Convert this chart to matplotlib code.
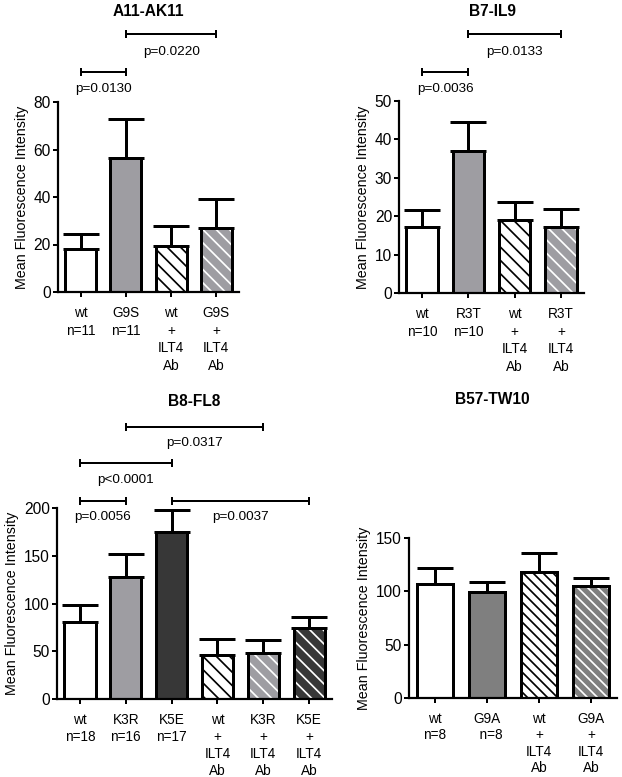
import matplotlib
matplotlib.use("Agg")
import matplotlib.pyplot as plt
from matplotlib.transforms import blended_transform_factory

W, H, DPI = 622, 777, 120


def pt(px):
    return px * 72.0 / DPI


plt.rcParams['font.family'] = ['Liberation Sans', 'DejaVu Sans']
plt.rcParams['hatch.linewidth'] = pt(1.7)

# ---------------- data ----------------
A_title = "A11-AK11"
A_labels = ["wt\nn=11", "G9S\nn=11", "wt\n+\nILT4\nAb", "G9S\n+\nILT4\nAb"]
A_means = [18.0, 56.5, 19.3, 27.0]
A_sem = [6.4, 16.3, 8.7, 12.0]
A_brackets = [(0, 1, "p=0.0130"), (1, 3, "p=0.0220")]

B_title = "B7-IL9"
B_labels = ["wt\nn=10", "R3T\nn=10", "wt\n+\nILT4\nAb", "R3T\n+\nILT4\nAb"]
B_means = [17.3, 36.9, 18.9, 17.3]
B_sem = [4.3, 7.7, 4.9, 4.6]
B_brackets = [(0, 1, "p=0.0036"), (1, 3, "p=0.0133")]

C_title = "B8-FL8"
C_labels = ["wt\nn=18", "K3R\nn=16", "K5E\nn=17",
            "wt\n+\nILT4\nAb", "K3R\n+\nILT4\nAb", "K5E\n+\nILT4\nAb"]
C_means = [81.0, 128.0, 175.0, 46.0, 48.0, 74.0]
C_sem = [17.0, 24.0, 23.0, 17.0, 14.0, 12.0]
C_brackets = [(0, 1, "p=0.0056"), (0, 2, "p<0.0001"),
              (1, 4, "p=0.0317"), (2, 5, "p=0.0037")]

D_title = "B57-TW10"
D_labels = ["wt\nn=8", "G9A\n  n=8", "wt\n+\nILT4\nAb", "G9A\n+\nILT4\nAb"]
D_means = [106.6, 99.7, 117.8, 105.3]
D_sem = [15.6, 8.7, 17.8, 7.5]

YLABEL = "Mean Fluorescence Intensity"

# ---------------- styles ----------------
GRAY = "#9e9da2"
DARK = "#373737"
MID = "#7f7f7f"
A_style = [("white", None), (GRAY, None), ("white", "k"), (GRAY, "white")]
B_style = A_style
C_style = [("white", None), (GRAY, None), (DARK, None),
           ("white", "k"), (GRAY, "white"), (DARK, "white")]
D_style = [("white", None), (MID, None), ("white", "k"), (MID, "white")]

fig = plt.figure(figsize=(W / DPI, H / DPI), dpi=DPI)
fig.patch.set_facecolor("white")


def px_axes(left, right, top, bottom):
    return fig.add_axes([left / W, 1 - bottom / H, (right - left) / W, (bottom - top) / H])


def panel(ax, labels, means, sem, styles, ymax, ystep, hatch, lsp):
    n = len(means)
    xs = list(range(n))
    bw = 0.68
    lw = pt(3)
    for x, m, (fc, hc) in zip(xs, means, styles):
        if hc is None:
            ax.bar(x, m, bw, color=fc, edgecolor="k", linewidth=lw, zorder=2)
        else:
            ax.bar(x, m, bw, color=fc, edgecolor=hc, hatch=hatch, linewidth=0, zorder=2)
            ax.bar(x, m, bw, fill=False, edgecolor="k", linewidth=lw, zorder=3)
    ax.errorbar(xs, means, yerr=[[0] * n, sem], fmt="none", ecolor="k",
                elinewidth=pt(3), capsize=pt(18), capthick=pt(3), zorder=4)
    ax.set_xlim(-0.5, n - 0.5)
    ax.set_ylim(0, ymax)
    ax.set_yticks(list(range(0, ymax + 1, ystep)))
    ax.set_xticks(xs)
    ax.set_xticklabels(labels, fontsize=pt(13.6), linespacing=lsp)
    ax.tick_params(axis="y", labelsize=pt(15.5), length=pt(5), width=pt(2), pad=pt(2))
    ax.tick_params(axis="x", length=pt(5), width=pt(2), pad=pt(9))
    for s in ("top", "right"):
        ax.spines[s].set_visible(False)
    for s in ("left", "bottom"):
        ax.spines[s].set_linewidth(pt(2.2))
    ax.set_ylabel(YLABEL, fontsize=pt(14.2), labelpad=pt(5))


def brackets(ax, br, levels, text_levels):
    tr = blended_transform_factory(ax.transData, ax.transAxes)
    for (i, j, txt), yl, ty in zip(br, levels, text_levels):
        d = 3.0 / ax.bbox.height
        ax.plot([i, j], [yl, yl], color="k", lw=pt(2), transform=tr, clip_on=False)
        for xx in (i, j):
            ax.plot([xx, xx], [yl - d, yl + d], color="k", lw=pt(2), transform=tr, clip_on=False)
        ax.text((i + j) / 2, ty, txt, transform=tr, ha="center", va="center",
                fontsize=pt(13.5))


def title(text, x, y):
    fig.text(x / W, 1 - y / H, text, ha="center", va="center",
             fontsize=pt(15.5), fontweight="bold")


# Panel A
axA = px_axes(58, 239, 102, 292)
panel(axA, A_labels, A_means, A_sem, A_style, 80, 20, "\\\\\\", 1.33)
brackets(axA, A_brackets, [1.158, 1.358], [1.068, 1.263])
title(A_title, 148, 11)

# Panel B
axB = px_axes(399, 584, 101, 293)
panel(axB, B_labels, B_means, B_sem, B_style, 50, 10, "\\\\\\", 1.33)
brackets(axB, B_brackets, [1.151, 1.349], [1.062, 1.255])
title(B_title, 492, 11)

# Panel C
axC = px_axes(57, 332, 508, 699)
panel(axC, C_labels, C_means, C_sem, C_style, 200, 50, "\\\\\\", 1.27)
brackets(axC, C_brackets, [1.038, 1.236, 1.424, 1.038], [0.953, 1.147, 1.340, 0.953])
title(C_title, 194, 402)

# Panel D
axD = px_axes(409, 617, 538, 698)
panel(axD, D_labels, D_means, D_sem, D_style, 150, 50, "\\\\\\\\", 1.22)
title(D_title, 492, 400)

fig.savefig("out.png", dpi=DPI, facecolor="white")
